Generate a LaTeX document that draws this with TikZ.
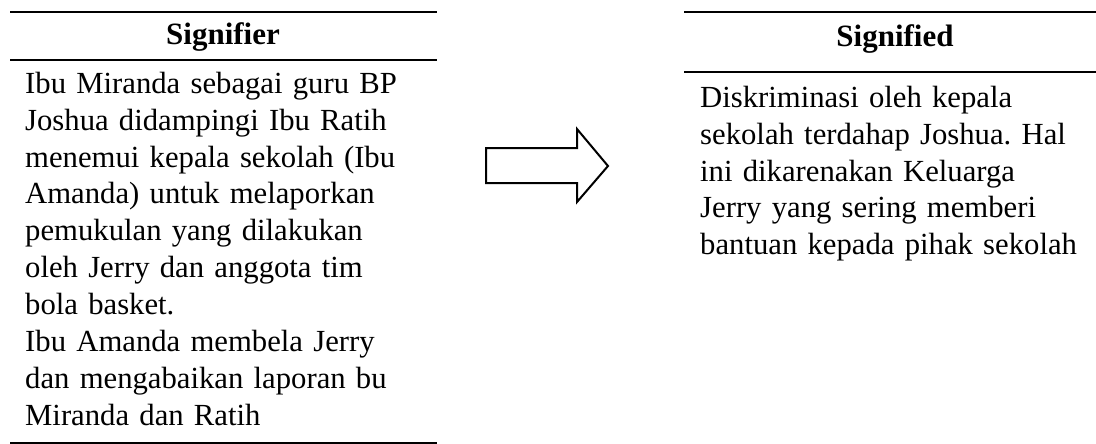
\documentclass[tikz,border=0pt]{standalone}
\usepackage{fontspec}
\setmainfont{Liberation Serif}
\frenchspacing
\tikzset{
  rule/.style={line width=2.2pt},
  body/.style={anchor=base west, inner sep=0pt, text width=420pt, align=left,
    font=\fontsize{30.7}{37}\selectfont},
  head/.style={anchor=base, inner sep=0pt, font=\fontsize{31}{37}\selectfont\bfseries},
  bigarrow/.style={line width=2pt, line join=miter, fill=white}
}
\begin{document}
\begin{tikzpicture}[x=1pt,y=-1pt]
\useasboundingbox (0,0) rectangle (1096,444);
% left column rules
\coordinate (l1a) at (10,12);  \coordinate (l1b) at (437,12);
\coordinate (l2a) at (10,60);  \coordinate (l2b) at (437,60);
\coordinate (l3a) at (10,443); \coordinate (l3b) at (437,443);
\draw[rule] (l1a) -- (l1b);
\draw[rule] (l2a) -- (l2b);
\draw[rule] (l3a) -- (l3b);
% right column rules
\coordinate (r1a) at (684,12); \coordinate (r1b) at (1096,12);
\coordinate (r2a) at (684,72); \coordinate (r2b) at (1096,72);
\draw[rule] (r1a) -- (r1b);
\draw[rule] (r2a) -- (r2b);
% headers
\node[head] (hsr) at (223,45) {Signifier};
\node[head] (hsd) at (895,47) {Signified};
% body texts
\node[body] (sr) at (25,93) {Ibu Miranda sebagai guru BP\\
Joshua didampingi Ibu Ratih\\
menemui kepala sekolah (Ibu\\
Amanda) untuk melaporkan\\
pemukulan yang dilakukan\\
oleh Jerry dan anggota tim\\
bola basket.\\
Ibu Amanda membela Jerry\\
dan mengabaikan laporan bu\\
Miranda dan Ratih};
\node[body] (sd) at (700,107) {Diskriminasi oleh kepala\\
sekolah terdahap Joshua. Hal\\
ini dikarenakan Keluarga\\
Jerry yang sering memberi\\
bantuan kepada pihak sekolah};
% block arrow
\draw[bigarrow] (486,148) -- (577,148) -- (577,129) -- (608,166) -- (577,202)
  -- (577,183) -- (486,183) -- cycle;
\end{tikzpicture}
\end{document}
